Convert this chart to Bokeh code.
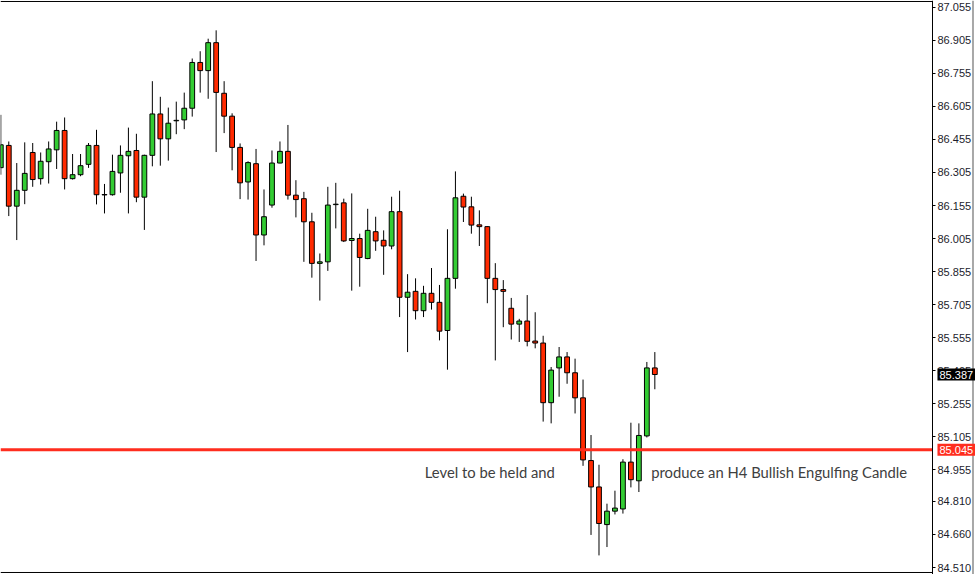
from bokeh.plotting import figure
from bokeh.models import Range1d, FixedTicker, PrintfTickFormatter, Label, ColumnDataSource
from bokeh.embed import file_html
from bokeh.resources import INLINE

# H4 candles, oldest first (price)
opens = [86.327, 86.428, 86.152, 86.224, 86.396, 86.277, 86.354, 86.408, 86.496, 86.277,
         86.295, 86.342, 86.428, 86.205, 86.204, 86.303, 86.381, 86.405, 86.193, 86.383,
         86.571, 86.458, 86.540, 86.544, 86.597, 86.805, 86.768, 86.895, 86.665, 86.561,
         86.419, 86.262, 86.345, 86.021, 86.157, 86.348, 86.401, 86.202, 86.186, 86.081,
         85.892, 85.899, 86.159, 86.167, 85.996, 86.005, 85.914, 86.036, 85.997, 85.971,
         86.127, 85.738, 85.765, 85.677, 85.756, 85.715, 85.587, 85.824, 86.197, 86.149,
         86.067, 86.059, 85.824, 85.773, 85.688, 85.616, 85.630, 85.539, 85.530, 85.259,
         85.417, 85.467, 85.395, 85.281, 84.996, 84.876, 84.705, 84.766, 84.776, 84.989,
         84.904, 85.108, 85.417]
highs = [86.567, 86.446, 86.348, 86.442, 86.439, 86.396, 86.446, 86.536, 86.555, 86.389,
         86.389, 86.439, 86.499, 86.253, 86.386, 86.428, 86.509, 86.481, 86.386, 86.720,
         86.649, 86.600, 86.627, 86.668, 86.823, 86.856, 86.913, 86.951, 86.720, 86.574,
         86.437, 86.356, 86.412, 86.228, 86.405, 86.446, 86.521, 86.270, 86.217, 86.122,
         85.937, 86.240, 86.258, 86.186, 86.210, 86.027, 86.140, 86.104, 86.042, 86.195,
         86.222, 85.843, 85.824, 85.790, 85.871, 85.794, 86.047, 86.310, 86.209, 86.195,
         86.133, 86.061, 85.893, 85.816, 85.735, 85.640, 85.748, 85.670, 85.563, 85.421,
         85.512, 85.489, 85.459, 85.364, 85.112, 84.977, 84.800, 84.859, 85.002, 85.168,
         85.165, 85.444, 85.489]
lows = [86.295, 86.107, 85.998, 86.161, 86.240, 86.250, 86.255, 86.321, 86.228, 86.273,
        86.288, 86.326, 86.160, 86.119, 86.200, 86.213, 86.119, 86.170, 86.044, 86.333,
        86.336, 86.359, 86.479, 86.502, 86.559, 86.668, 86.640, 86.398, 86.484, 86.315,
        86.184, 86.182, 85.903, 85.974, 86.145, 86.347, 86.182, 86.101, 85.899, 85.827,
        85.723, 85.858, 86.051, 85.989, 85.768, 85.786, 85.911, 85.949, 85.840, 85.956,
        85.648, 85.489, 85.637, 85.648, 85.682, 85.542, 85.409, 85.777, 86.080, 86.027,
        85.971, 85.711, 85.451, 85.602, 85.546, 85.535, 85.515, 85.506, 85.173, 85.165,
        85.286, 85.345, 85.210, 84.972, 84.658, 84.565, 84.603, 84.751, 84.755, 84.874,
        84.853, 85.101, 85.320]
closes = [86.431, 86.152, 86.224, 86.301, 86.273, 86.356, 86.412, 86.496, 86.277, 86.295,
          86.336, 86.428, 86.204, 86.203, 86.310, 86.383, 86.401, 86.193, 86.383, 86.571,
          86.458, 86.529, 86.542, 86.597, 86.805, 86.768, 86.895, 86.669, 86.561, 86.419,
          86.258, 86.350, 86.021, 86.104, 86.348, 86.401, 86.202, 86.182, 86.081, 85.892,
          85.899, 86.157, 86.161, 85.994, 86.005, 85.919, 86.042, 85.994, 85.971, 86.127,
          85.738, 85.761, 85.677, 85.756, 85.715, 85.584, 85.824, 86.190, 86.148, 86.066,
          86.059, 85.824, 85.773, 85.765, 85.616, 85.630, 85.538, 85.530, 85.259, 85.407,
          85.467, 85.395, 85.281, 84.999, 84.876, 84.710, 84.766, 84.780, 84.989, 84.909,
          85.110, 85.417, 85.387]

tick_values = [87.055, 86.905, 86.755, 86.605, 86.455, 86.305, 86.155, 86.005, 85.855,
               85.705, 85.555, 85.405, 85.255, 85.105, 84.955, 84.810, 84.660, 84.510]
level_price = 85.045
last_price = 85.387
note_left = "Level to be held and"
note_right = "produce an H4 Bullish Engulfing Candle"

BULL = "#33CC33"
BEAR = "#FF2A00"
LEVEL = "#FF2D1E"

idx = list(range(len(opens)))
tops = [max(o, c) for o, c in zip(opens, closes)]
bottoms = [min(o, c) for o, c in zip(opens, closes)]
colors = [BULL if c >= o else BEAR for o, c in zip(opens, closes)]

# view window (bar index / price) and chart border position
x_start, x_end = -0.038, 122.205
y_start, y_end = 84.4782, 87.0866
x_border = 116.81
x_edge = 121.89
top_border = 87.0821
bottom_border = 84.4873

p = figure(width=975, height=574,
           x_range=Range1d(x_start, x_end), y_range=Range1d(y_start, y_end),
           x_axis_location=None, y_axis_location="right",
           toolbar_location=None, output_backend="svg",
           min_border_left=0, min_border_right=0, min_border_top=0, min_border_bottom=0)
p.grid.visible = False
p.outline_line_color = None
p.background_fill_color = "white"
p.border_fill_color = "white"

src = ColumnDataSource(dict(x=idx, high=highs, low=lows, top=tops, bottom=bottoms, color=colors))
p.segment(x0="x", y0="low", x1="x", y1="high", source=src, line_color="black", line_width=1)
p.vbar(x="x", width=0.6, top="top", bottom="bottom", source=src,
       fill_color="color", line_color="black", line_width=1)

# chart border (top / bottom), window edge and the horizontal level
p.segment(x0=[x_start, x_start], x1=[x_border, x_border], y0=[top_border, bottom_border],
          y1=[top_border, bottom_border], line_color="black", line_width=1)
p.segment(x0=[x_edge], x1=[x_edge], y0=[y_start], y1=[y_end], line_color="#A8A8A8", line_width=2)
p.segment(x0=[x_start], x1=[x_border], y0=[level_price], y1=[level_price],
          line_color=LEVEL, line_width=3)

ax = p.yaxis[0]
ax.fixed_location = x_border
ax.ticker = FixedTicker(ticks=tick_values)
ax.formatter = PrintfTickFormatter(format="%.3f")
ax.major_tick_out = 3
ax.major_tick_in = 0
ax.minor_tick_line_color = None
ax.major_label_standoff = 2
ax.major_label_text_font = "Liberation Sans"
ax.major_label_text_font_size = "11px"
ax.major_label_text_color = "#1c1c2c"
ax.axis_line_color = "black"
ax.major_tick_line_color = "black"

for price, bg in ((last_price, "black"), (level_price, LEVEL)):
    p.add_layout(Label(x=x_border, y=price, x_offset=5, text=f"{price:.3f}",
                       text_font="Liberation Sans", text_font_size="11px", text_color="white",
                       text_align="left", text_baseline="middle",
                       background_fill_color=bg, padding=2))

for xpos, txt in ((53.16, note_left), (81.55, note_right)):
    p.add_layout(Label(x=xpos, y=84.944, text=txt, text_font="Lato", text_font_size="14.8px",
                       text_color="#404040", text_align="left", text_baseline="alphabetic"))

open("out.html", "w").write(file_html(p, INLINE))
